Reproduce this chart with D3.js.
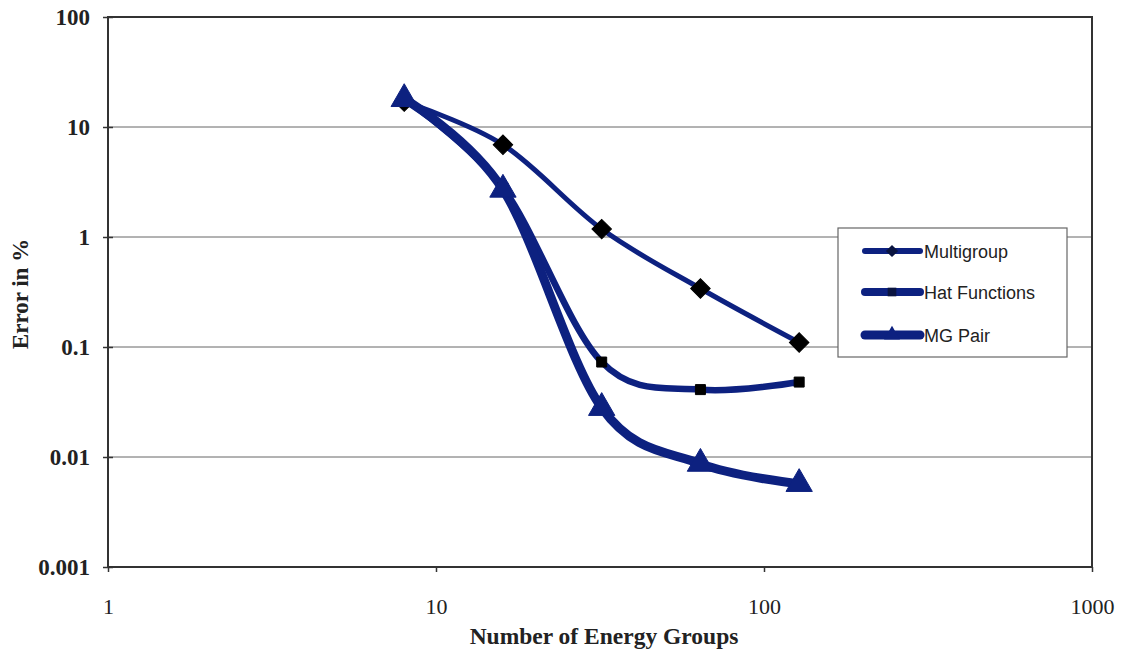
<!DOCTYPE html>
<html>
<head>
<meta charset="utf-8">
<script src="https://cdn.jsdelivr.net/npm/d3@7"></script>
<style>
  html, body { margin: 0; padding: 0; background: #fff; }
  svg { display: block; }
</style>
</head>
<body>
<svg id="chart" width="1127" height="651"></svg>
<script>
// Convergence of the error with the number of energy groups
const groups = [8, 16, 32, 64, 128];
const multigroup = [17, 6.9, 1.18, 0.34, 0.11];
const hatFunctions = [18, 2.8, 0.073, 0.041, 0.048];
const mgPair = [18, 2.7, 0.028, 0.0087, 0.0057];
const seriesNames = ["Multigroup", "Hat Functions", "MG Pair"];
const xTicks = [1, 10, 100, 1000];
const yTicks = [0.001, 0.01, 0.1, 1, 10, 100];

const svg = d3.select("#chart");
const plotLeft = 108, plotRight = 1092, plotTop = 17, plotBottom = 567;

const x = d3.scaleLog().domain([1, 1000]).range([plotLeft, plotRight]);
const y = d3.scaleLog().domain([0.001, 100]).range([plotBottom, plotTop]);

const navy = "#0d2180";
const serif = "'Liberation Serif', 'Times New Roman', serif";
const sans = "'Liberation Sans', Arial, sans-serif";

// horizontal gridlines
svg.append("g")
  .selectAll("line")
  .data(yTicks.slice(1, -1))
  .join("line")
  .attr("x1", plotLeft).attr("x2", plotRight)
  .attr("y1", d => y(d)).attr("y2", d => y(d))
  .attr("stroke", "#666").attr("stroke-width", 1);

// plot frame
svg.append("rect")
  .attr("x", plotLeft).attr("y", plotTop)
  .attr("width", plotRight - plotLeft).attr("height", plotBottom - plotTop)
  .attr("fill", "none").attr("stroke", "#333").attr("stroke-width", 2);

// y axis
const yAxis = d3.axisLeft(y).tickValues(yTicks).tickFormat(d => String(d)).tickSize(5).tickPadding(13);
const gy = svg.append("g").attr("transform", `translate(${plotLeft},0)`).call(yAxis);
gy.select(".domain").remove();
gy.selectAll(".tick line").attr("x2", -5).attr("x1", 5).attr("stroke", "#333").attr("stroke-width", 1.5);
gy.selectAll(".tick text")
  .attr("font-family", serif).attr("font-size", 23).attr("font-weight", "bold").attr("fill", "#222");

// x axis
const xAxis = d3.axisBottom(x).tickValues(xTicks).tickFormat(d => String(d)).tickSize(5).tickPadding(26);
const gx = svg.append("g").attr("transform", `translate(0,${plotBottom})`).call(xAxis);
gx.select(".domain").remove();
gx.selectAll(".tick line").attr("stroke", "#333").attr("stroke-width", 1.5);
gx.selectAll(".tick text")
  .attr("font-family", serif).attr("font-size", 22).attr("fill", "#222");

// axis titles
svg.append("text")
  .attr("x", 604).attr("y", 644)
  .attr("text-anchor", "middle")
  .attr("font-family", serif).attr("font-size", 23.5).attr("font-weight", "bold").attr("fill", "#222")
  .text("Number of Energy Groups");

svg.append("text")
  .attr("transform", "translate(28,294) rotate(-90)")
  .attr("text-anchor", "middle")
  .attr("font-family", serif).attr("font-size", 23).attr("font-weight", "bold").attr("fill", "#222")
  .text("Error in %");

// smoothed series lines
const line = d3.line()
  .x(d => x(d[0])).y(d => y(d[1]))
  .curve(d3.curveCardinal.tension(0));

const series = [
  { name: seriesNames[0], values: multigroup, width: 5, legendWidth: 6, marker: "diamond" },
  { name: seriesNames[1], values: hatFunctions, width: 6.5, legendWidth: 8, marker: "square" },
  { name: seriesNames[2], values: mgPair, width: 9, legendWidth: 9, marker: "triangle" }
];

const symbolOf = {
  diamond: d3.symbol().type(d3.symbolSquare).size(190),
  square: d3.symbol().type(d3.symbolSquare).size(100),
  triangle: d3.symbol().type(d3.symbolTriangle).size(300)
};

series.forEach(s => {
  const pts = groups.map((g, i) => [g, s.values[i]]);
  svg.append("path")
    .datum(pts)
    .attr("d", line)
    .attr("fill", "none")
    .attr("stroke", navy)
    .attr("stroke-width", s.width)
    .attr("stroke-linecap", "round")
    .attr("stroke-linejoin", "round");
});

series.forEach(s => {
  const pts = groups.map((g, i) => [g, s.values[i]]);
  svg.append("g")
    .selectAll("path")
    .data(pts)
    .join("path")
    .attr("d", symbolOf[s.marker])
    .attr("transform", d => `translate(${x(d[0])},${y(d[1])})` + (s.marker === "diamond" ? " rotate(45)" : ""))
    .attr("fill", s.marker === "triangle" ? navy : "#000")
    .attr("stroke", s.marker === "triangle" ? navy : "#000")
    .attr("stroke-width", 1);
});

// legend
const lg = svg.append("g").attr("transform", "translate(838,228)");
lg.append("rect")
  .attr("width", 229).attr("height", 129)
  .attr("fill", "#fff").attr("stroke", "#666").attr("stroke-width", 1.2);

const legendRows = [23, 64, 107];
series.forEach((s, i) => {
  const row = lg.append("g").attr("transform", `translate(0,${legendRows[i]})`);
  row.append("line")
    .attr("x1", 27).attr("x2", 82)
    .attr("stroke", navy).attr("stroke-width", s.legendWidth).attr("stroke-linecap", "round");
  const sym = s.marker === "triangle" ? d3.symbol().type(d3.symbolTriangle).size(110)
            : d3.symbol().type(d3.symbolSquare).size(75);
  row.append("path")
    .attr("d", sym)
    .attr("transform", `translate(54,0)` + (s.marker === "diamond" ? " rotate(45)" : ""))
    .attr("fill", s.marker === "triangle" ? navy : "#0a1440");
  row.append("text")
    .attr("x", 86).attr("y", 6.5)
    .attr("font-family", sans).attr("font-size", 18).attr("fill", "#222")
    .text(s.name);
});
</script>
</body>
</html>
